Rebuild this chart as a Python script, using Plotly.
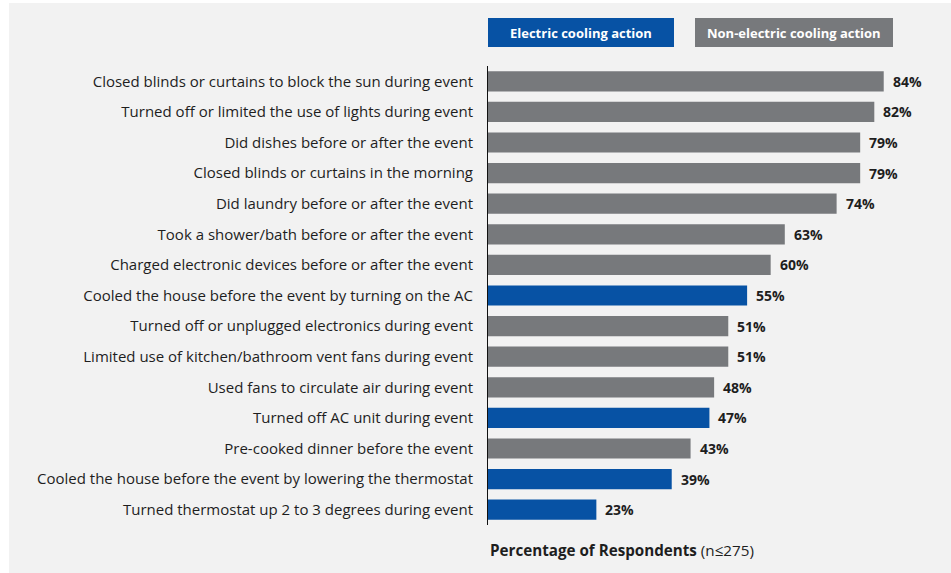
import plotly.graph_objects as go

# Survey responses: share of respondents taking each action (ordered top to bottom)
actions = [
    "Closed blinds or curtains to block the sun during event",
    "Turned off or limited the use of lights during event",
    "Did dishes before or after the event",
    "Closed blinds or curtains in the morning",
    "Did laundry before or after the event",
    "Took a shower/bath before or after the event",
    "Charged electronic devices before or after the event",
    "Cooled the house before the event by turning on the AC",
    "Turned off or unplugged electronics during event",
    "Limited use of kitchen/bathroom vent fans during event",
    "Used fans to circulate air during event",
    "Turned off AC unit during event",
    "Pre-cooked dinner before the event",
    "Cooled the house before the event by lowering the thermostat",
    "Turned thermostat up 2 to 3 degrees during event",
]
percent = [84, 82, 79, 79, 74, 63, 60, 55, 51, 51, 48, 47, 43, 39, 23]
is_electric = [False, False, False, False, False, False, False, True,
               False, False, False, True, False, True, True]

legend_labels = ["Electric cooling action", "Non-electric cooling action"]
axis_title = "<b>Percentage of Respondents</b> (n≤275)"

BLUE = "#0752a4"
GRAY = "#77797c"
BG = "#f2f2f2"
TEXT = "#1e1e1e"
FONT = "Open Sans"

W, H = 951, 573
L, R, T, B = 488, 39, 66, 48
plot_w = W - L - R
plot_h = H - T - B
XMAX = 90

colors = [BLUE if e else GRAY for e in is_electric]

fig = go.Figure()
fig.add_trace(go.Bar(
    x=percent,
    y=actions,
    orientation="h",
    marker=dict(color=colors, line=dict(width=0)),
    width=0.66,
    hoverinfo="x+y",
))

# Value labels just past each bar end
for a, p in zip(actions, percent):
    fig.add_annotation(
        x=p, y=a, xref="x", yref="y",
        text=f"<b>{p}%</b>", showarrow=False,
        xanchor="left", yanchor="middle", xshift=7,
        font=dict(family=FONT, size=14, color=TEXT),
    )


def px_x(px):
    return (px - L) / plot_w


def px_y(py):
    return 1 - (py - T) / plot_h


# Light panel behind the chart (thin white edge at top/left)
fig.add_shape(type="rect", xref="paper", yref="paper",
              x0=px_x(9), x1=px_x(W + 5), y0=px_y(H + 5), y1=px_y(3),
              fillcolor=BG, line=dict(width=0), layer="below")

# Legend boxes
legend_boxes = [(488, 674, BLUE), (695, 893, GRAY)]
for (x0, x1, c), lab in zip(legend_boxes, legend_labels):
    fig.add_shape(type="rect", xref="paper", yref="paper",
                  x0=px_x(x0), x1=px_x(x1), y0=px_y(47), y1=px_y(18),
                  fillcolor=c, line=dict(width=0))
    fig.add_annotation(x=px_x((x0 + x1) / 2), y=px_y(33), xref="paper", yref="paper",
                       text=f"<b>{lab}</b>", showarrow=False,
                       xanchor="center", yanchor="middle",
                       font=dict(family=FONT, size=13, color="white"))

# Axis title under the bars
fig.add_annotation(x=0, y=px_y(550), xref="paper", yref="paper",
                   text=axis_title, showarrow=False,
                   xanchor="left", yanchor="middle",
                   font=dict(family=FONT, size=15.2, color=TEXT))

fig.update_layout(
    width=W, height=H,
    margin=dict(l=L, r=R, t=T, b=B, pad=0),
    paper_bgcolor="white",
    plot_bgcolor="rgba(0,0,0,0)",
    showlegend=False,
    bargap=0.34,
    xaxis=dict(range=[0, XMAX], visible=False, fixedrange=True),
    yaxis=dict(
        autorange="reversed",
        showline=True, linecolor="#111111", linewidth=1,
        showgrid=False, zeroline=False,
        ticks="outside", ticklen=11, tickcolor="rgba(0,0,0,0)",
        tickfont=dict(family=FONT, size=15, color=TEXT),
        fixedrange=True,
    ),
)

fig.write_html("out.html")
